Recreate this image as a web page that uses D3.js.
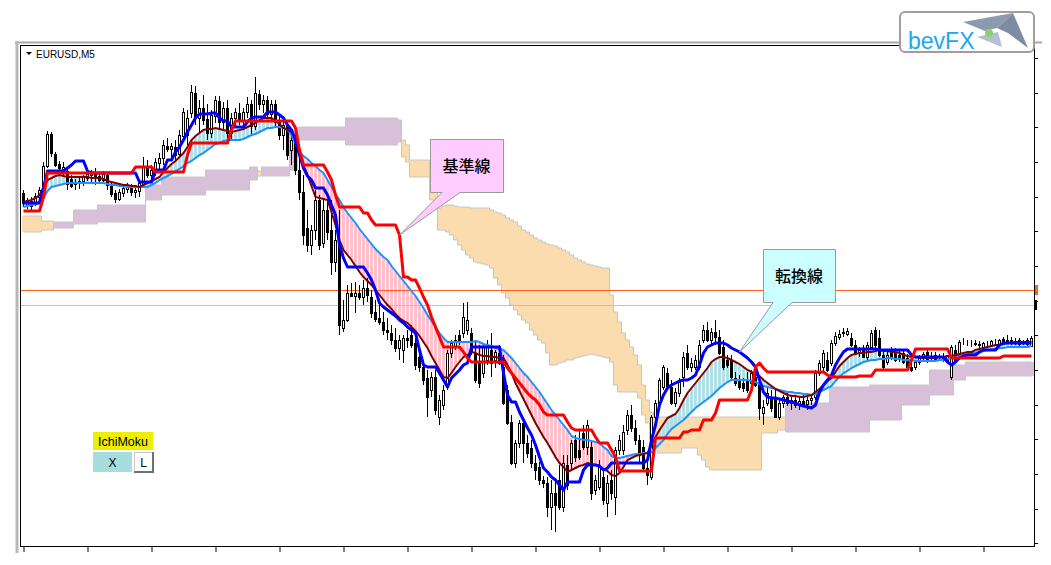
<!DOCTYPE html>
<html>
<head>
<meta charset="utf-8">
<script src="https://cdn.jsdelivr.net/npm/d3@7"></script>
<style>
  body { margin: 0; background: #fff; }
  svg { display: block; }
</style>
</head>
<body>
<svg id="chart" width="1051" height="565"></svg>
<script>
// EURUSD M5 with Ichimoku. Prices are in points (0.00001) above 1.10000.
const open = [
  807,795,799,796,803,810,834,866,846,836, 830,829,821,816,817,819,822,825,826,824,
  820,825,815,807,801,807,811,814,808,809, 816,833,825,829,837,842,854,851,853,846,
  864,865,887,907,882,892,881,867,884,899, 878,892,867,882,887,879,888,896,874,906,
  896,900,886,896,878,865,874,850,860,830, 808,772,755,770,800,757,790,770,738,755,
  672,680,707,704,707,703,712,703,688,682, 678,670,667,660,652,650,662,665,657,643,
  633,622,610,623,583,595,613,647,653,665, 667,670,667,647,637,627,640,650,640,647,
  633,610,578,537,557,577,557,552,537,533, 520,517,493,507,520,493,535,537,560,550,
  567,553,553,510,513,523,497,520,503,550, 550,570,585,572,560,553,532,523,583,597,
  613,627,613,597,607,623,647,633,633,633, 660,670,660,668,663,653,640,640,622,620,
  617,620,617,623,617,587,597,603,603,583, 597,603,597,600,595,599,596,600,603,627,
  633,640,637,657,663,667,666,662,655,648, 650,643,653,670,662,645,638,650,648,645,
  647,642,633,633,638,643,648,643,645,643, 643,640,623,650,642,658,657,657,657,656,
  653,656,655,658,655,661,659,660,658,660, 657,660,654
];
const high = [
  810,802,803,807,813,838,869,868,848,839, 838,832,825,821,822,825,829,830,832,828,
  829,828,818,810,811,814,817,816,815,820, 843,840,835,842,847,860,862,857,860,870,
  892,890,915,914,900,905,896,890,904,904, 898,900,887,892,897,892,903,900,923,910,
  905,904,900,900,885,882,878,865,872,850, 825,790,775,810,805,800,798,800,770,790,
  700,715,717,718,715,720,722,710,700,695, 688,682,675,672,665,665,670,675,662,650,
  640,630,628,630,605,615,650,660,665,670, 697,698,672,660,655,655,660,667,650,655,
  645,615,585,560,580,582,565,560,545,538, 524,523,520,522,535,545,545,560,565,570,
  575,580,560,525,540,530,525,530,553,565, 575,590,595,580,565,560,538,585,600,622,
  635,632,620,612,622,648,655,642,645,660, 675,678,672,680,670,660,645,645,628,625,
  622,628,630,630,622,600,612,610,610,602, 605,607,605,604,602,605,603,606,630,640,
  650,648,660,668,670,672,672,667,660,653, 655,658,670,673,670,650,648,653,652,650,
  650,646,637,640,645,648,650,648,648,646, 647,645,655,655,660,662,660,660,660,659,
  658,659,660,661,661,663,665,663,662,662, 660,662,664
];
const low = [
  793,791,788,794,800,808,832,843,833,829, 823,810,812,810,811,814,819,818,815,816,
  817,810,803,797,799,803,807,804,802,803, 813,822,820,824,830,835,848,843,840,843,
  860,855,882,875,868,875,860,862,877,872, 870,862,860,872,875,870,882,865,870,890,
  887,882,880,872,860,850,840,835,825,800, 755,748,745,760,750,752,760,725,728,665,
  668,678,703,687,700,695,698,682,678,675, 665,660,655,648,640,637,652,652,630,628,
  615,583,603,585,575,590,610,642,650,655, 662,665,645,617,612,622,635,623,632,635,
  595,575,535,532,552,537,542,532,520,515, 512,483,470,468,490,488,510,530,538,540,
  550,545,500,505,510,495,483,500,485,545, 545,565,568,555,538,528,515,520,580,595,
  610,610,595,593,603,613,630,628,630,630, 657,658,655,655,645,630,632,620,614,610,
  608,607,612,613,580,575,594,588,582,580, 592,594,590,592,590,593,590,595,600,624,
  628,628,634,654,660,663,664,653,645,643, 642,640,650,650,643,630,635,640,638,638,
  636,631,628,630,635,638,637,640,638,640, 638,638,620,638,640,655,654,653,654,652,
  651,654,653,655,653,655,656,655,655,654, 655,654,653
];
const close = [
  797,800,794,804,810,834,866,847,835,832, 833,816,814,818,819,823,826,827,824,820,
  826,815,806,801,808,812,814,808,810,817, 834,825,830,838,842,855,851,854,845,865,
  888,882,908,882,892,880,867,885,900,878, 892,867,882,888,880,888,896,874,907,896,
  900,886,896,878,865,875,845,860,830,808, 765,755,770,800,755,790,768,738,760,675,
  680,707,704,707,703,712,705,687,681,678, 670,668,660,652,660,662,660,655,635,633,
  620,603,623,590,600,610,647,657,660,660, 683,680,648,620,617,653,653,637,648,637,
  597,577,537,557,577,557,547,537,530,520, 517,493,507,495,493,537,515,557,543,543,
  553,575,507,520,533,500,517,507,550,560, 568,585,572,560,545,532,525,583,597,620,
  633,613,597,608,618,643,633,637,640,655, 670,660,668,663,647,633,635,623,617,613,
  612,610,627,615,592,593,607,592,583,597, 603,597,600,595,599,596,600,602,627,637,
  647,630,657,664,666,668,669,655,647,650, 643,655,667,655,645,633,645,643,640,642,
  638,633,630,638,643,646,639,643,640,643, 640,645,653,640,658,658,657,657,656,655,
  657,656,659,658,660,657,660,657,658,656, 657,656,662
];

// Tenkan-sen (blue) and Kijun-sen (red)
const tenkan = [
  797,797,797,797,797,812,829,829,829,829, 829,832,835,839,839,839,829,827,827,827,
  827,827,827,827,827,827,827,827,827,818, 818,818,818,830,830,830,840,840,848,853,
  860,868,875,882,886,886,886,887,887,882, 879,879,873,873,873,873,878,882,883,883,
  883,888,888,888,885,882,875,870,860,845, 832,824,820,812,812,812,805,795,785,755,
  742,733,733,733,733,733,727,720,710,697, 693,690,687,684,680,677,673,670,667,650,
  635,633,633,633,627,620,613,622,626,630, 635,637,653,653,653,653,653,653,653,653,
  627,605,598,598,588,580,572,565,555,543, 532,528,523,520,515,510,518,518,518,518,
  530,535,535,535,534,530,532,537,537,537, 537,537,537,537,537,537,540,560,575,595,
  605,612,615,617,619,620,620,622,625,635, 647,653,655,657,657,657,655,652,650,648,
  645,642,638,633,620,608,603,602,602,601, 600,599,598,597,595,594,593,592,595,608,
  615,620,625,635,642,648,651,651,651,651, 651,651,651,651,650,650,650,650,650,650,
  650,650,645,643,643,643,643,643,643,643, 643,638,635,638,642,644,645,645,645,648,
  650,650,650,650,655,657,657,657,657,657, 657,657,657
];
const kijun = [
  789,789,789,789,789,803,827,827,827,827, 827,827,827,827,827,827,827,827,827,827,
  827,827,827,827,827,827,827,827,833,833, 833,833,833,828,828,828,828,828,828,828,
  828,845,857,857,857,857,857,857,857,857, 857,857,870,879,879,879,879,879,879,879,
  879,879,879,879,879,879,879,879,872,850, 835,835,835,835,835,835,828,820,805,793,
  793,793,793,793,793,787,787,780,775,775, 775,775,775,775,765,723,723,720,720,712,
  703,695,683,673,663,653,653,653,653,653, 648,642,638,638,638,638,638,638,638,638,
  638,632,627,622,617,612,607,603,600,595, 588,585,585,585,585,585,578,572,570,570,
  570,570,570,563,557,557,557,550,543,529, 529,529,529,529,529,529,529,529,562,562,
  562,562,562,562,562,568,568,570,570,570, 580,580,580,587,600,600,600,600,600,600,
  600,600,610,633,637,632,628,628,628,628, 628,628,628,628,628,628,628,628,628,628,
  628,625,623,623,623,623,623,623,623,624, 624,624,624,630,630,630,630,630,630,630,
  630,630,640,651,651,651,651,651,651,651, 651,651,642,642,642,642,642,642,642,642,
  642,642,642,642,642,644,644,644,644,644, 644,644,644
];

// Senkou span A / B as drawn (already shifted forward)
const spanA = [
  768,768,768,768,768,770,770,770,778,778, 778,778,778,790,790,790,790,790,790,795,
  795,795,795,795,795,795,795,795,795,795, 795,815,815,815,815,823,823,823,823,823,
  823,823,823,823,823,823,830,830,830,830, 830,830,830,830,830,830,830,833,833,824,
  833,833,833,833,833,833,833,870,870,873, 873,873,873,873,873,873,873,873,873,873,
  873,882,882,882,882,882,882,882,882,882, 882,882,882,882,880,843,838,823,823,823,
  823,823,800,800,770,770,768,765,760,755, 750,745,742,738,737,736,735,732,722,715,
  707,702,695,690,685,680,677,670,665,660, 657,647,635,635,637,638,640,640,642,643,
  644,645,646,645,644,643,642,638,615,608, 608,608,608,608,602,585,577,560,550,547,
  547,547,547,547,547,552,552,552,552,545, 540,533,530,530,530,530,530,530,530,530,
  530,530,530,530,530,567,567,567,567,570, 570,597,597,597,597,597,597,597,597,597,
  597,597,613,613,613,613,613,613,613,613, 613,613,615,615,615,615,615,615,615,615,
  615,615,615,615,615,615,615,630,630,630, 630,630,630,635,635,635,638,638,638,638,
  638,638,638,638,638,638,638,638,638,638, 638,638,638
];
const spanB = [
  784,784,784,784,784,779,779,779,772,772, 772,772,772,776,776,776,776,776,776,778,
  778,778,778,778,778,778,778,778,778,778, 778,800,800,800,800,805,805,805,805,805,
  805,805,805,805,805,805,810,810,810,810, 810,810,810,810,810,810,810,820,820,829,
  824,824,824,824,824,824,824,830,830,860, 860,860,860,860,860,860,860,860,860,860,
  860,855,855,855,855,855,855,855,855,855, 855,855,855,855,858,860,855,840,840,840,
  840,840,820,820,792,794,795,795,794,793, 793,793,792,792,792,792,792,790,788,787,
  785,782,780,778,774,770,768,765,762,760, 758,756,755,754,752,750,748,745,742,740,
  738,736,735,734,733,732,732,705,688,678, 667,660,653,645,635,615,600,588,583,583,
  583,583,583,583,583,583,583,583,583,583, 583,583,583,583,583,583,583,583,583,583,
  583,583,583,583,583,583,583,583,583,583, 583,568,568,568,568,568,568,568,568,568,
  568,568,568,568,568,568,568,568,568,568, 568,568,580,580,580,580,580,580,580,580,
  595,595,595,595,595,595,595,605,605,605, 605,605,605,620,620,620,624,624,624,624,
  624,624,624,624,624,624,624,624,624,624, 624,624,624
];

// two moving averages with the hatched band between them
const maFast = [
  798,799,800,802,805,812,820,822,824,825, 824,823,823,823,823,823,823,822,822,822,
  821,819,818,817,816,815,815,814,814,813, 815,817,819,821,823,828,832,836,839,843,
  847,853,860,864,867,870,871,871,872,871, 870,869,868,869,870,871,873,875,877,880,
  882,882,882,879,876,872,870,868,860,847, 835,825,814,803,802,801,800,788,775,760,
  750,745,740,734,728,723,719,715,710,705, 700,695,691,686,682,679,677,673,669,664,
  658,652,644,637,630,623,622,627,633,638, 643,645,648,647,645,644,644,643,643,642,
  642,635,627,617,609,601,593,585,577,570, 563,557,550,543,537,533,528,530,532,534,
  535,537,536,535,534,531,529,525,524,527, 533,540,542,544,545,546,547,555,563,570,
  576,582,584,586,592,600,607,612,617,622, 627,632,638,641,643,643,642,640,638,636,
  633,630,628,626,624,620,617,614,611,609, 607,605,604,604,603,603,604,605,608,611,
  615,619,622,628,634,638,642,645,646,647, 647,648,648,649,650,649,649,648,648,647,
  645,644,643,643,642,642,642,642,642,643, 643,644,644,645,646,647,648,648,650,651,
  652,653,654,655,655,656,657,657,658,658, 658,658,658
];
const maSlow = [
  793,794,795,796,797,802,809,813,814,815, 816,817,817,817,817,817,817,817,817,817,
  817,816,815,815,814,814,813,813,813,813, 813,813,815,817,820,822,824,826,829,831,
  834,837,839,842,845,847,850,853,856,857, 859,860,860,860,860,861,863,865,866,868,
  870,872,872,873,873,872,870,865,857,848, 844,841,837,834,830,827,820,813,806,800,
  793,787,782,777,771,766,761,756,751,747, 743,740,734,729,724,719,714,709,704,698,
  692,685,679,673,667,662,658,658,658,658, 658,658,658,659,658,656,655,654,652,651,
  650,646,642,637,632,627,623,618,613,608, 602,596,590,585,580,575,570,564,562,561,
  560,560,559,558,557,553,550,544,542,542, 543,544,545,546,546,547,547,548,552,556,
  560,566,571,574,577,580,584,588,592,595, 598,601,604,608,612,615,618,620,620,620,
  620,620,619,618,616,614,613,612,611,610, 609,608,608,607,607,606,606,605,606,608,
  610,612,614,619,623,627,629,632,634,636, 638,639,640,640,641,641,642,642,641,641,
  640,640,640,639,639,639,639,639,639,640, 640,641,642,643,644,645,646,647,647,648,
  649,650,650,651,652,652,653,653,653,653, 653,653,654
];

const timeTicks = [0, 16, 32, 48, 64, 80, 96, 112, 128, 144, 160, 176, 192, 208, 224, 240];
const priceTicks = [457, 491, 526, 561, 595, 630, 665, 699, 734, 769, 803, 838, 873, 907, 942];
const levelValues = [710, 695];
const levelColors = ["#ff6020", "#c0c0c0"];
const levelTags = ["#ff6020", "#000000"];

const W = 1051, H = 565;
const n = close.length;
const frame = { left: 20.5, top: 45.5, right: 1034.5, bottom: 546.5 };

const x = d3.scaleLinear().domain([0, n - 1]).range([23.5, 1031.5]);
const y = d3.scaleLinear().domain([453, 954]).range([547, 46]);

const svg = d3.select("#chart");
svg.append("rect").attr("width", W).attr("height", H).attr("fill", "#fff");

// window edges
svg.append("line")
  .attr("x1", 15).attr("x2", 1042).attr("y1", 42.5).attr("y2", 42.5)
  .attr("stroke", "#a8a8a8").attr("stroke-width", 2);
svg.append("line")
  .attr("x1", 17).attr("x2", 17).attr("y1", 41).attr("y2", 553)
  .attr("stroke", "#b8b8b8").attr("stroke-width", 3);

svg.append("clipPath").attr("id", "plot")
  .append("rect").attr("x", 21).attr("y", 46).attr("width", 1013).attr("height", 500);

const g = svg.append("g").attr("clip-path", "url(#plot)");
const bars = d3.range(n);

// Kumo
g.append("g").selectAll("rect").data(bars).join("rect")
  .attr("x", i => x(i) - 2).attr("width", 4)
  .attr("y", i => y(Math.max(spanA[i], spanB[i])))
  .attr("height", i => Math.abs(y(spanA[i]) - y(spanB[i])))
  .attr("fill", i => spanA[i] >= spanB[i] ? "#d8c0d8" : "#fbdcae")
  .attr("shape-rendering", "crispEdges");

const stepLine = arr => d3.line().x(i => x(i)).y(i => y(arr[i])).curve(d3.curveStep)(bars);
[spanA, spanB].forEach(s => {
  g.append("path").attr("d", stepLine(s))
    .attr("fill", "none").attr("stroke", "#c6c6c6").attr("stroke-width", 1);
});

// hatched band between the moving averages
g.append("g").selectAll("rect").data(bars).join("rect")
  .attr("x", i => x(i) - 1.5).attr("width", 3)
  .attr("y", i => y(Math.max(maFast[i], maSlow[i])))
  .attr("height", i => Math.abs(y(maFast[i]) - y(maSlow[i])))
  .attr("fill", i => maFast[i] >= maSlow[i] ? "#b0e0e6" : "#ffc0cb")
  .attr("shape-rendering", "crispEdges");

// horizontal levels
levelValues.forEach((v, k) => {
  g.append("line")
    .attr("x1", 21).attr("x2", 1034)
    .attr("y1", Math.round(y(v)) + 0.5).attr("y2", Math.round(y(v)) + 0.5)
    .attr("stroke", levelColors[k]).attr("stroke-width", 1);
});

// candles
const cg = g.append("g").attr("shape-rendering", "crispEdges");
cg.selectAll("line").data(bars).join("line")
  .attr("x1", i => x(i)).attr("x2", i => x(i))
  .attr("y1", i => y(high[i])).attr("y2", i => y(low[i]))
  .attr("stroke", "#000");
cg.selectAll("rect").data(bars).join("rect")
  .attr("x", i => x(i) - 1).attr("width", 2)
  .attr("y", i => Math.round(y(Math.max(open[i], close[i]))) + 0.5)
  .attr("height", i => Math.max(Math.round(Math.abs(y(open[i]) - y(close[i]))), 0))
  .attr("fill", i => close[i] >= open[i] ? "#fff" : "#000")
  .attr("stroke", "#000");

// indicator lines
const line = arr => d3.line().x(i => x(i)).y(i => y(arr[i]))(bars);
g.append("path").attr("d", line(maSlow)).attr("fill", "none")
  .attr("stroke", "#1e90ff").attr("stroke-width", 2);
g.append("path").attr("d", line(maFast)).attr("fill", "none")
  .attr("stroke", "#800000").attr("stroke-width", 2);
g.append("path").attr("d", line(tenkan)).attr("fill", "none")
  .attr("stroke", "#0000ff").attr("stroke-width", 3).attr("stroke-linejoin", "round");
g.append("path").attr("d", line(kijun)).attr("fill", "none")
  .attr("stroke", "#ff0000").attr("stroke-width", 3).attr("stroke-linejoin", "round");

// chart frame and axes
svg.append("rect")
  .attr("x", frame.left).attr("y", frame.top)
  .attr("width", frame.right - frame.left).attr("height", frame.bottom - frame.top)
  .attr("fill", "none").attr("stroke", "#000");

const xAxis = svg.append("g").attr("transform", "translate(0,547)")
  .call(d3.axisBottom(x).tickValues(timeTicks).tickSize(5).tickFormat(""));
xAxis.select(".domain").remove();
const yAxis = svg.append("g").attr("transform", "translate(1034,0)")
  .call(d3.axisRight(y).tickValues(priceTicks).tickSize(4).tickFormat(""));
yAxis.select(".domain").remove();

levelValues.forEach((v, k) => {
  svg.append("rect")
    .attr("x", 1035).attr("y", y(v) - 5).attr("width", k === 0 ? 3 : 2).attr("height", 10)
    .attr("fill", levelTags[k]);
});

// symbol label
svg.append("path").attr("d", "M26,52 L32,52 L29,55 Z").attr("fill", "#000");
svg.append("text").attr("x", 36).attr("y", 58)
  .attr("font-family", "Liberation Sans, Arial, sans-serif").attr("font-size", 10)
  .text("EURUSD,M5");

// IchiMoku panel
svg.append("rect").attr("x", 93).attr("y", 432).attr("width", 60).attr("height", 18).attr("fill", "#eeee00");
svg.append("text").attr("x", 123).attr("y", 446).attr("text-anchor", "middle")
  .attr("font-family", "Liberation Sans, Arial, sans-serif").attr("font-size", 12.5)
  .text("IchiMoku");
svg.append("rect").attr("x", 93).attr("y", 452).attr("width", 39).attr("height", 20).attr("fill", "#a6dede");
svg.append("text").attr("x", 112.5).attr("y", 466.5).attr("text-anchor", "middle")
  .attr("font-family", "Liberation Sans, Arial, sans-serif").attr("font-size", 12)
  .text("X");
svg.append("rect").attr("x", 134.5).attr("y", 452.5).attr("width", 18).attr("height", 19)
  .attr("fill", "#fff").attr("stroke", "#c8c8c8");
svg.append("path").attr("d", "M153,452 V472 H134").attr("fill", "none").attr("stroke", "#707070").attr("stroke-width", 2);
svg.append("text").attr("x", 143.5).attr("y", 466.5).attr("text-anchor", "middle")
  .attr("font-family", "Liberation Sans, Arial, sans-serif").attr("font-size", 12)
  .text("L");

// callouts pointing at the lines
const callouts = [
  { text: "基準線", series: kijun, bar: 94, box: [430, 139, 73, 53], base: [442, 460], fill: "#ffccff" },
  { text: "転換線", series: tenkan, bar: 179, box: [763, 249, 72, 53], base: [773, 792], fill: "#ccffff" }
];
callouts.forEach(c => {
  const [bx, by, bw, bh] = c.box;
  const tx = x(c.bar), ty = y(c.series[c.bar]);
  const p = `M${bx + 0.5},${by + 0.5} H${bx + bw + 0.5} V${by + bh + 0.5} H${c.base[1]} L${tx},${ty} L${c.base[0]},${by + bh + 0.5} H${bx + 0.5} Z`;
  svg.append("path").attr("d", p).attr("fill", c.fill).attr("stroke", "#999").attr("stroke-width", 1);
  svg.append("text").attr("x", bx + bw / 2).attr("y", by + bh / 2 + 6)
    .attr("text-anchor", "middle")
    .attr("font-family", "Noto Sans CJK JP, sans-serif").attr("font-size", 16).attr("font-weight", 500)
    .text(c.text);
});

// bevFX logo
const logo = svg.append("g");
logo.append("rect").attr("x", 900).attr("y", 12).attr("width", 134).attr("height", 40).attr("rx", 5)
  .attr("fill", "#fff").attr("stroke", "#a89a98").attr("stroke-width", 2);
logo.append("text").attr("x", 908).attr("y", 49)
  .attr("font-family", "Liberation Sans, Arial, sans-serif").attr("font-size", 23)
  .attr("fill", "#1da7ec").text("bevFX");
logo.append("polygon").attr("points", "963,22 1013,13 997,28 985,31").attr("fill", "#8d99ae");
logo.append("polygon").attr("points", "997,28 1013,13 1028,48 1008,33").attr("fill", "#7f8ba3");
logo.append("polygon").attr("points", "977,37 998,32 1002,47").attr("fill", "#b3bfd3");
logo.append("circle").attr("cx", 989).attr("cy", 33).attr("r", 4).attr("fill", "#8fcf72");
</script>
</body>
</html>
